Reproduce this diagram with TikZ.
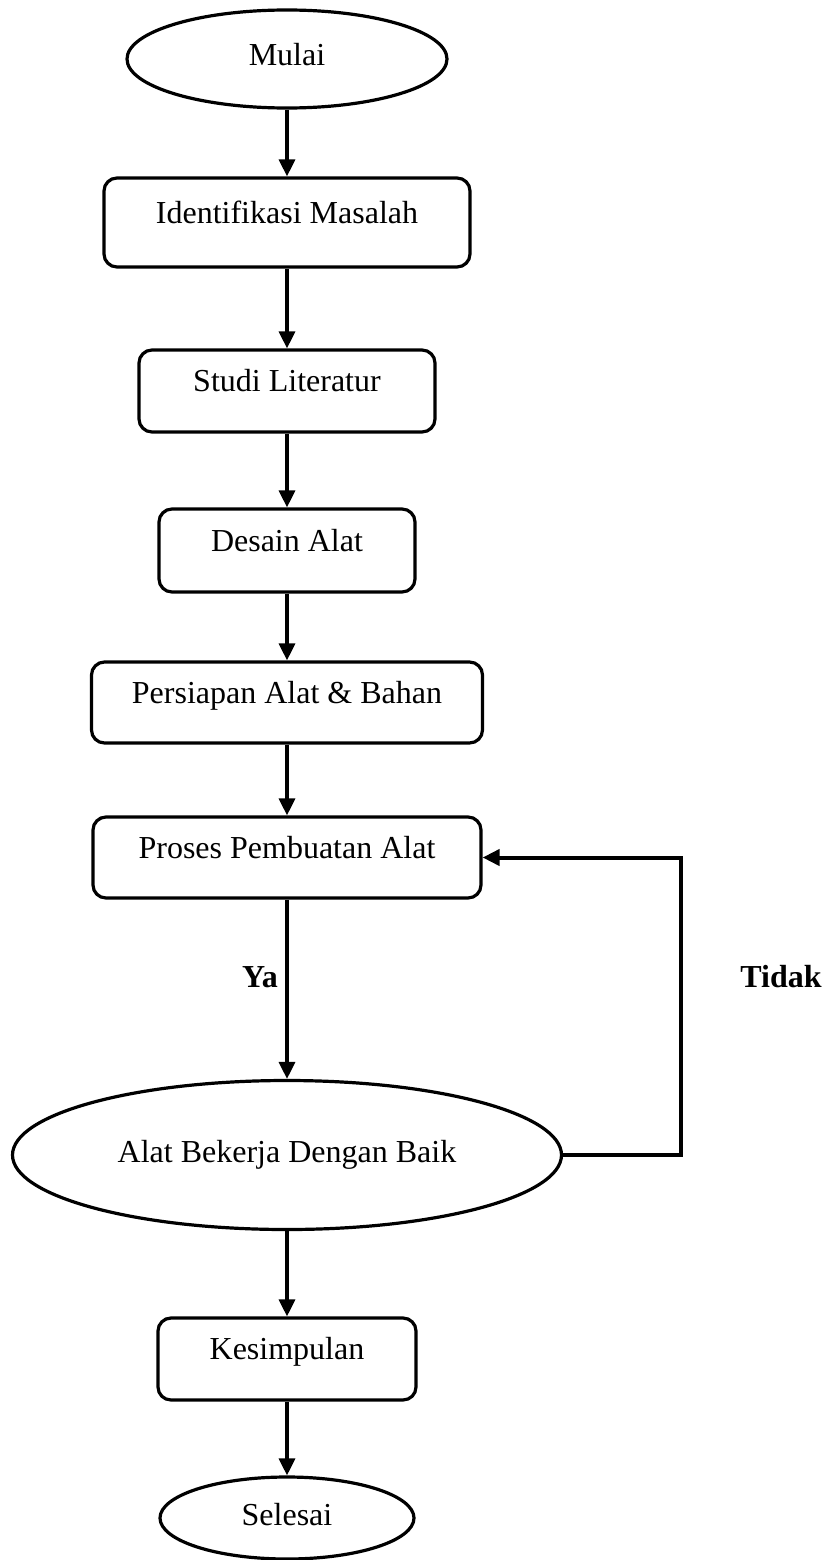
\documentclass[tikz,border=0pt]{standalone}
\usepackage{fontspec}
\setmainfont{Liberation Serif}
\usetikzlibrary{shapes.geometric, arrows.meta}

\begin{document}
\begin{tikzpicture}[x=1pt, y=-1pt,
		font=\fontsize{32}{38}\selectfont,
		box/.style={draw, line width=3.2pt, rounded corners=13pt, inner sep=0pt, text height=21pt, text depth=20pt},
		oval/.style={draw, ellipse, line width=3.2pt, inner sep=0pt, text height=21pt, text depth=7pt},
		jawab/.style={font=\fontsize{32}{38}\selectfont\bfseries}]
			\def\cx{287};

			\useasboundingbox (0,0) rectangle (823,1560);

			\node[oval, minimum width=320pt, minimum height=98pt] (mulai) at (\cx,59) {Mulai};
			\node[box, minimum width=366pt, minimum height=89pt] (ident) at (\cx,222.5) {Identifikasi Masalah};
			\node[box, minimum width=296pt, minimum height=82pt] (studi) at (\cx,391) {Studi Literatur};
			\node[box, minimum width=256pt, minimum height=83pt] (desain) at (\cx,550.5) {Desain Alat};
			\node[box, minimum width=391pt, minimum height=81pt] (persiapan) at (\cx,702.5) {Persiapan Alat \& Bahan};
			\node[box, minimum width=388pt, minimum height=81pt] (proses) at (\cx,857.5) {Proses Pembuatan Alat};
			\node[oval, minimum width=549pt, minimum height=149pt] (alat) at (\cx,1155) {Alat Bekerja Dengan Baik};
			\node[box, minimum width=258pt, minimum height=82pt] (kesimpulan) at (\cx,1359) {Kesimpulan};
			\node[oval, minimum width=254pt, minimum height=82pt] (selesai) at (\cx,1518) {Selesai};

			\node[jawab] (ya) at (260,977) {Ya};
			\node[jawab] (tidak) at (781,977) {Tidak};
			\coordinate (belok) at (681,1155);

			\begin{scope}[line width=3.2pt, -{Triangle[length=17pt, width=16pt]}]
				\draw (mulai) -- (ident);
				\draw (ident) -- (studi);
				\draw (studi) -- (desain);
				\draw (desain) -- (persiapan);
				\draw (persiapan) -- (proses);
				\draw (proses) -- (alat);
				\draw (alat) -- (kesimpulan);
				\draw (kesimpulan) -- (selesai);
				\draw[line width=4pt] (alat.east) -- (belok) |- (proses.east);
			\end{scope}
		\end{tikzpicture}
\end{document}
